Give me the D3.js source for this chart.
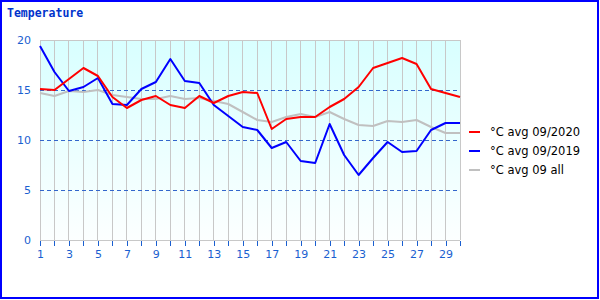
<!DOCTYPE html>
<html><head><meta charset="utf-8">
<script src="https://cdn.jsdelivr.net/npm/d3@7/dist/d3.min.js"></script>
<style>body{margin:0;background:#fff}svg{display:block}</style>
</head><body>
<script>
const days = d3.range(1, 31);
const xTickLabels = [1,3,5,7,9,11,13,15,17,19,21,23,25,27,29];
const yTicks = [0,5,10,15,20];
const avg2020 = [15.1,15.0,16.1,17.2,16.4,14.3,13.2,14.0,14.4,13.5,13.2,14.4,13.7,14.4,14.8,14.7,11.1,12.1,12.3,12.3,13.3,14.1,15.3,17.2,17.7,18.2,17.6,15.1,14.7,14.3];
const avg2019 = [19.4,16.8,14.9,15.3,16.2,13.6,13.5,15.1,15.8,18.1,15.9,15.7,13.5,12.4,11.3,11.0,9.2,9.8,7.9,7.7,11.6,8.5,6.5,8.2,9.8,8.8,8.9,11.0,11.7,11.7];
const avgAll = [14.7,14.4,14.9,14.8,15.0,14.5,14.3,14.1,14.1,14.4,14.1,14.2,13.9,13.6,12.8,12.0,11.8,12.3,12.6,12.3,12.8,12.1,11.5,11.4,11.9,11.8,12.0,11.3,10.7,10.7];
const seriesNames = ["°C avg 09/2020","°C avg 09/2019","°C avg 09 all"];
const seriesColors = ["#ff0000","#0000ff","#c0c0c0"];
const seriesData = [avg2020, avg2019, avgAll];

const W = 600, H = 300;
const svg = d3.select("body").append("svg").attr("width", W).attr("height", H);

const x = d3.scaleLinear().domain([1, 30]).range([40, 460]);
const y = d3.scaleLinear().domain([0, 20]).range([240, 40]);

const defs = svg.append("defs");
const grad = defs.append("linearGradient").attr("id","bg").attr("x1",0).attr("y1",0).attr("x2",0).attr("y2",1);
grad.append("stop").attr("offset","0%").attr("stop-color","#d8ffff");
grad.append("stop").attr("offset","100%").attr("stop-color","#fcffff");

svg.append("rect").attr("x",1).attr("y",1).attr("width",W-3).attr("height",H-3)
  .attr("fill","#fff").attr("stroke","#0000ff").attr("stroke-width",2);

svg.append("text").attr("x",7).attr("y",17).text("Temperature")
  .attr("font-family","DejaVu Sans Mono").attr("font-weight","bold").attr("font-size",11.5)
  .attr("fill","#0033cc");

svg.append("rect").attr("x",x(1)).attr("y",y(20)).attr("width",x(30)-x(1)).attr("height",y(0)-y(20))
  .attr("fill","url(#bg)");

// vertical grid
svg.append("g").selectAll("line").data(days).join("line")
  .attr("x1",d=>x(d)).attr("x2",d=>x(d)).attr("y1",y(20)).attr("y2",y(0))
  .attr("stroke","#c8c8c8").attr("stroke-width",1).attr("shape-rendering","crispEdges");
// frame top and bottom
svg.append("line").attr("x1",x(1)).attr("x2",x(30)).attr("y1",y(20)).attr("y2",y(20))
  .attr("stroke","#c8c8c8").attr("shape-rendering","crispEdges");
svg.append("line").attr("x1",x(1)).attr("x2",x(30)).attr("y1",y(0)).attr("y2",y(0))
  .attr("stroke","#c8c8c8").attr("shape-rendering","crispEdges");
// horizontal dashed
svg.append("g").selectAll("line").data([5,10,15]).join("line")
  .attr("x1",x(1)).attr("x2",x(30)).attr("y1",d=>y(d)).attr("y2",d=>y(d))
  .attr("stroke","#3366cc").attr("stroke-dasharray","4,3").attr("shape-rendering","crispEdges");

// x axis
const xAxis = d3.axisBottom(x).tickValues(days).tickSize(5).tickPadding(4)
  .tickFormat(d => xTickLabels.includes(d) ? d : "");
const gx = svg.append("g").attr("transform",`translate(0,${y(0)+1})`).call(xAxis);
gx.select(".domain").remove();
gx.selectAll("line").attr("stroke","#1a5fd0").attr("shape-rendering","crispEdges");
gx.selectAll("text").attr("fill","#1a5fd0").attr("font-family","DejaVu Sans").attr("font-size",11);

// y axis
const yAxis = d3.axisLeft(y).tickValues(yTicks).tickSize(0).tickPadding(9);
const gy = svg.append("g").attr("transform",`translate(${x(1)},0)`).call(yAxis);
gy.select(".domain").remove();
gy.selectAll("text").attr("fill","#1a5fd0").attr("font-family","DejaVu Sans").attr("font-size",11);

// lines
const line = d3.line().x((d,i)=>x(days[i])).y(d=>y(d));
[2,1,0].forEach(k => {
  svg.append("path").datum(seriesData[k]).attr("d",line)
    .attr("fill","none").attr("stroke",seriesColors[k]).attr("stroke-width",2)
    .attr("stroke-linejoin","round");
});

// legend
const lg = svg.append("g");
seriesNames.forEach((n,i) => {
  const yy = 132 + i*19;
  lg.append("line").attr("x1",469).attr("x2",480).attr("y1",yy).attr("y2",yy)
    .attr("stroke",seriesColors[i]).attr("stroke-width",2);
  lg.append("text").attr("x",490).attr("y",yy+4).text(n)
    .attr("font-family","DejaVu Sans").attr("font-size",11.5).attr("fill","#000");
});
</script>
</body></html>
